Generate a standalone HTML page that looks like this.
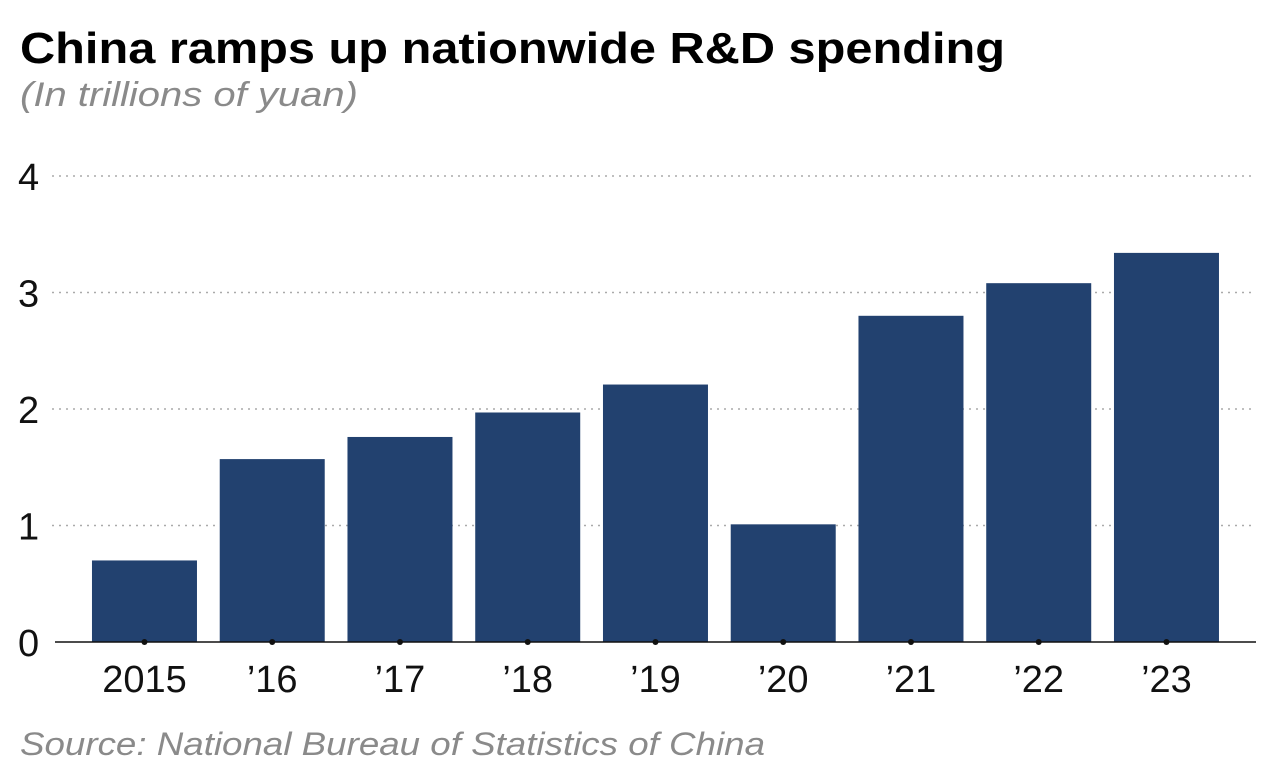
<!DOCTYPE html>
<html><head><meta charset="utf-8"><style>
body{margin:0;background:#fff;width:1268px;height:770px;overflow:hidden;font-family:"Liberation Sans",sans-serif;}
</style></head><body>
<svg width="1268" height="770" xmlns="http://www.w3.org/2000/svg">
<text x="20" y="63" font-size="44" font-weight="bold" fill="#000" textLength="985" lengthAdjust="spacingAndGlyphs">China ramps up nationwide R&amp;D spending</text>
<text x="20" y="106" font-size="34" font-style="italic" fill="#8a8a8a" textLength="338" lengthAdjust="spacingAndGlyphs">(In trillions of yuan)</text>
<g id="grid"></g><g id="bars"></g><g id="axis"></g>
<text x="20" y="755" font-size="32" font-style="italic" fill="#8a8a8a" textLength="745" lengthAdjust="spacingAndGlyphs">Source: National Bureau of Statistics of China</text>
</svg>
<script>
const categories = ["2015","\u201916","\u201917","\u201918","\u201919","\u201920","\u201921","\u201922","\u201923"];
const values = [0.70,1.57,1.76,1.97,2.21,1.01,2.80,3.08,3.34];
const yTicks = [0,1,2,3,4];
const NS="http://www.w3.org/2000/svg";
const y0=642, y4=176, x0=80.6, step=127.75, bw=105;
function yScale(v){return y0-(y0-y4)*v/4;}
function xCenter(i){return x0+step*(i+0.5);}
function mk(t,a,p){const e=document.createElementNS(NS,t);for(const k in a)e.setAttribute(k,a[k]);p.appendChild(e);return e;}
const grid=document.getElementById('grid'),bars=document.getElementById('bars'),axis=document.getElementById('axis');
yTicks.forEach(t=>{
  const y=yScale(t);
  if(t>0){const l=mk('line',{x1:52,x2:1256,y1:y,y2:y,stroke:'#aaa','stroke-width':1.5,'stroke-dasharray':'2,5'},grid);
  
  }
  const tx=mk('text',{x:18,y:y+14,'font-size':38,fill:'#111'},axis);
  tx.textContent=t;
  
  
});
values.forEach((v,i)=>{
  const c=xCenter(i);
  const r=mk('rect',{x:c-bw/2,y:yScale(v),width:bw,height:y0-yScale(v),fill:'#22416f'},bars);
  
  
  const d=mk('circle',{cx:c,cy:y0,r:3,fill:'#111'},axis);
  
  
  const t=mk('text',{x:c,y:y0+50,'font-size':38,'text-anchor':'middle',fill:'#111'},axis);
  t.textContent=categories[i];
  
  
});
const ax=mk('line',{x1:55,x2:1256,y1:y0,y2:y0,stroke:'#111','stroke-width':1.5},axis);


</script>
</body></html>
